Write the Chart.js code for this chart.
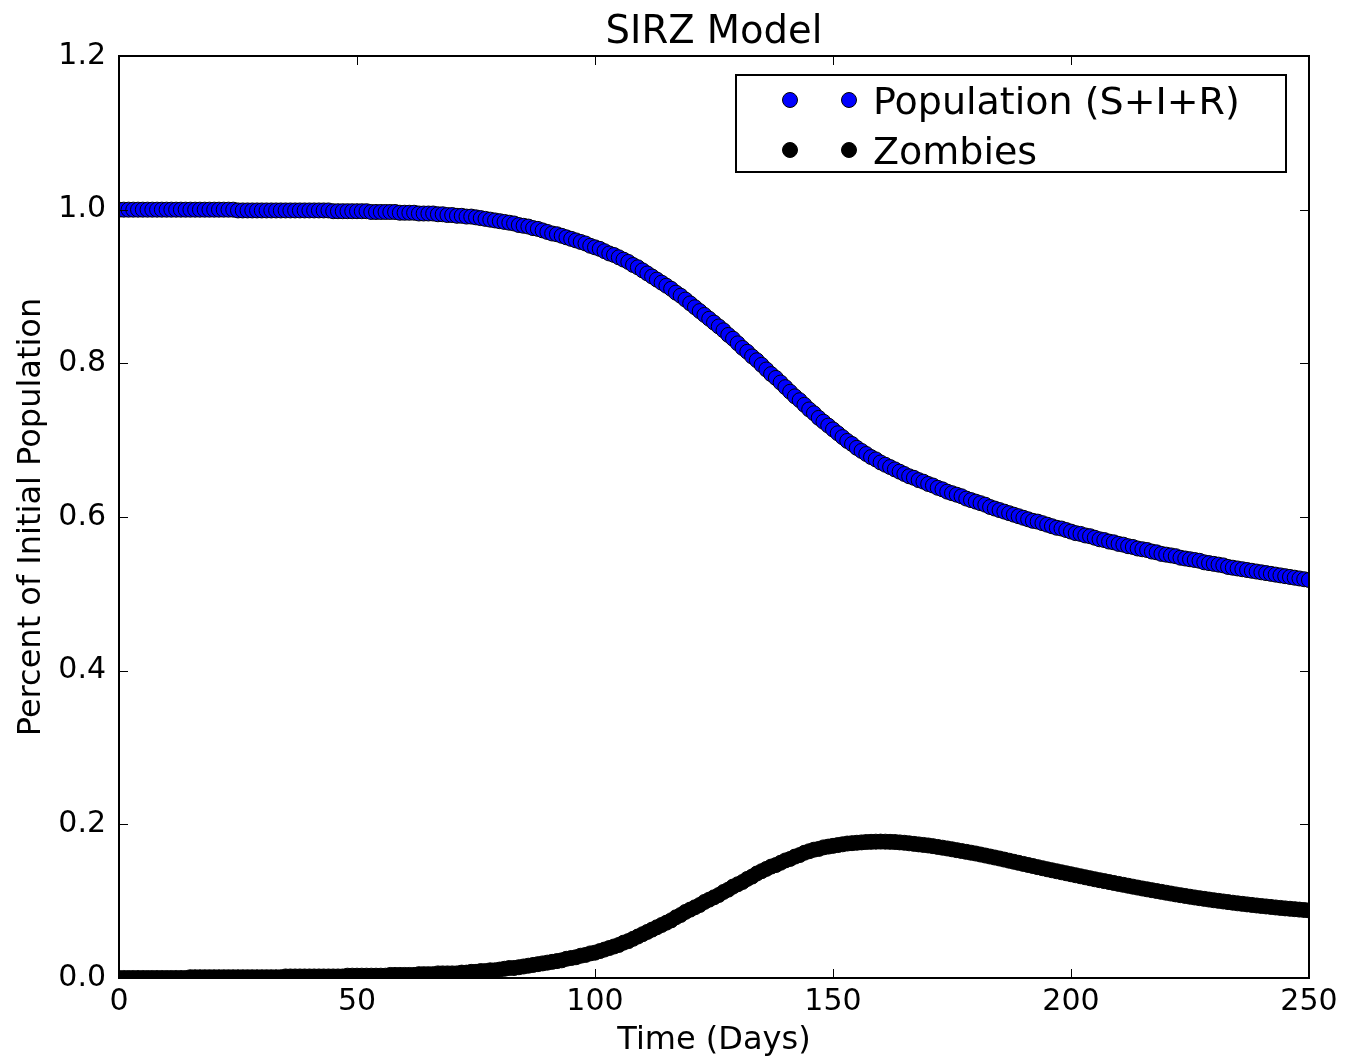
<!DOCTYPE html>
<html>
<head>
<meta charset="utf-8">
<title>SIRZ Model</title>
<script src="https://cdn.jsdelivr.net/npm/chart.js@4.4.1/dist/chart.umd.min.js"></script>
<style>
  html, body { margin: 0; padding: 0; background: #ffffff; }
  #wrap { width: 1346px; height: 1060px; }
</style>
</head>
<body>
<div id="wrap"><canvas id="chart" width="1346" height="1060"></canvas></div>
<script>
// Share of the initial population still human (S+I+R), one sample per day, days 0..250
const population = [
  // days 0-24
  1.000, 1.000, 1.000, 1.000, 1.000, 1.000, 1.000, 1.000, 1.000, 1.000,
  1.000, 1.000, 1.000, 1.000, 1.000, 1.000, 1.000, 1.000, 1.000, 1.000,
  1.000, 1.000, 1.000, 1.000, 1.000,
  // days 25-44
  0.999, 0.999, 0.999, 0.999, 0.999, 0.999, 0.999, 0.999, 0.999, 0.999,
  0.999, 0.999, 0.999, 0.999, 0.999, 0.999, 0.999, 0.999, 0.999, 0.999,
  // days 45-59
  0.998, 0.998, 0.998, 0.998, 0.998, 0.998, 0.998, 0.998,
  0.997, 0.997, 0.997, 0.997, 0.997, 0.997, 0.996,
  // days 60-99
  0.996, 0.996, 0.996, 0.995, 0.995, 0.995, 0.995, 0.994, 0.994, 0.993,
  0.993, 0.992, 0.992, 0.991, 0.991, 0.990, 0.989, 0.988, 0.987, 0.986,
  0.985, 0.984, 0.983, 0.982, 0.980, 0.979, 0.978, 0.976, 0.975, 0.973,
  0.971, 0.969, 0.968, 0.966, 0.964, 0.962, 0.960, 0.958, 0.956, 0.953,
  // days 100-139
  0.951, 0.949, 0.946, 0.943, 0.941, 0.938, 0.935, 0.932, 0.928, 0.925,
  0.921, 0.917, 0.913, 0.909, 0.905, 0.901, 0.897, 0.892, 0.888, 0.883,
  0.878, 0.873, 0.868, 0.863, 0.858, 0.853, 0.848, 0.843, 0.837, 0.832,
  0.826, 0.820, 0.815, 0.809, 0.804, 0.798, 0.792, 0.786, 0.781, 0.775,
  // days 140-179
  0.769, 0.763, 0.757, 0.752, 0.746, 0.740, 0.735, 0.729, 0.724, 0.719,
  0.714, 0.709, 0.704, 0.699, 0.695, 0.690, 0.686, 0.682, 0.678, 0.675,
  0.671, 0.668, 0.665, 0.662, 0.659, 0.656, 0.653, 0.651, 0.648, 0.646,
  0.643, 0.641, 0.638, 0.636, 0.633, 0.631, 0.629, 0.627, 0.624, 0.622,
  // days 180-219
  0.620, 0.618, 0.616, 0.613, 0.611, 0.609, 0.607, 0.605, 0.603, 0.601,
  0.599, 0.597, 0.595, 0.594, 0.592, 0.590, 0.588, 0.586, 0.585, 0.583,
  0.581, 0.579, 0.578, 0.576, 0.575, 0.573, 0.571, 0.570, 0.568, 0.567,
  0.565, 0.564, 0.562, 0.561, 0.559, 0.558, 0.557, 0.555, 0.554, 0.552,
  // days 220-250
  0.551, 0.550, 0.549, 0.547, 0.546, 0.545, 0.544, 0.543, 0.541, 0.540,
  0.539, 0.538, 0.537, 0.535, 0.534, 0.533, 0.532, 0.531, 0.530, 0.529,
  0.528, 0.527, 0.526, 0.525, 0.524, 0.523, 0.522, 0.521, 0.520, 0.519,
  0.518
];

// Zombies as a share of the initial population, days 0..250
const zombies = [
  // days 0-69
  0.000, 0.000, 0.000, 0.000, 0.000, 0.000, 0.000, 0.000, 0.000, 0.000,
  0.000, 0.000, 0.000, 0.000, 0.000, 0.001, 0.001, 0.001, 0.001, 0.001,
  0.001, 0.001, 0.001, 0.001, 0.001, 0.001, 0.001, 0.001, 0.001, 0.001,
  0.001, 0.001, 0.001, 0.001, 0.001, 0.002, 0.002, 0.002, 0.002, 0.002,
  0.002, 0.002, 0.002, 0.002, 0.002, 0.002, 0.002, 0.002, 0.003, 0.003,
  0.003, 0.003, 0.003, 0.003, 0.003, 0.003, 0.003, 0.004, 0.004, 0.004,
  0.004, 0.004, 0.004, 0.005, 0.005, 0.005, 0.005, 0.006, 0.006, 0.006,
  // days 70-109
  0.006, 0.006, 0.007, 0.007, 0.008, 0.008, 0.009, 0.009, 0.010, 0.010,
  0.011, 0.012, 0.013, 0.013, 0.014, 0.015, 0.016, 0.017, 0.018, 0.019,
  0.020, 0.021, 0.022, 0.023, 0.025, 0.026, 0.027, 0.029, 0.030, 0.032,
  0.033, 0.035, 0.037, 0.039, 0.041, 0.043, 0.046, 0.048, 0.051, 0.054,
  // days 110-149
  0.057, 0.060, 0.063, 0.066, 0.069, 0.072, 0.075, 0.079, 0.082, 0.086,
  0.089, 0.092, 0.095, 0.099, 0.102, 0.105, 0.108, 0.112, 0.115, 0.119,
  0.122, 0.125, 0.129, 0.132, 0.136, 0.139, 0.142, 0.145, 0.147, 0.150,
  0.153, 0.155, 0.158, 0.160, 0.163, 0.165, 0.167, 0.168, 0.170, 0.171,
  // days 150-189
  0.1720, 0.1730, 0.1740, 0.1750, 0.1755, 0.1760, 0.1765, 0.1770, 0.1772, 0.1774,
  0.1775, 0.1774, 0.1772, 0.1770, 0.1765, 0.1760, 0.1753, 0.1746, 0.1739, 0.1732,
  0.1725, 0.1716, 0.1706, 0.1696, 0.1686, 0.1675, 0.1664, 0.1653, 0.1642, 0.1631,
  0.1620, 0.1607, 0.1594, 0.1581, 0.1568, 0.1555, 0.1541, 0.1527, 0.1513, 0.1499,
  // days 190-219
  0.1485, 0.1471, 0.1457, 0.1443, 0.1429, 0.1415, 0.1402, 0.1389, 0.1376, 0.1363,
  0.1350, 0.1337, 0.1324, 0.1311, 0.1298, 0.1285, 0.1273, 0.1261, 0.1249, 0.1237,
  0.1225, 0.1213, 0.1201, 0.1189, 0.1177, 0.1165, 0.1154, 0.1143, 0.1132, 0.1121,
  // days 220-250
  0.1110, 0.1099, 0.1088, 0.1078, 0.1068, 0.1058, 0.1048, 0.1039, 0.1030, 0.1021,
  0.1012, 0.1004, 0.0996, 0.0988, 0.0980, 0.0972, 0.0965, 0.0958, 0.0951, 0.0944,
  0.0937, 0.0931, 0.0925, 0.0918, 0.0912, 0.0906, 0.0901, 0.0896, 0.0890, 0.0885,
  0.0880
];

// Time axis: one sample per day
const days = population.map((_, d) => d);

const xTicks = [0, 50, 100, 150, 200, 250];
const yTicks = [0.0, 0.2, 0.4, 0.6, 0.8, 1.0, 1.2];

const seriesNames = ['Population (S+I+R)', 'Zombies'];
const seriesColors = ['#0000ff', '#000000'];

const FONT = '"DejaVu Sans", "Bitstream Vera Sans", sans-serif';
const MARKER_R = 7.5;
const TICK_LEN = 9;

function toPoints(values) {
  return values.map((v, i) => ({ x: days[i], y: v }));
}

// Figure title, centred over the plotting area
const titlePlugin = {
  id: 'figTitle',
  afterDraw(chart) {
    const { ctx, chartArea: a } = chart;
    ctx.save();
    ctx.fillStyle = '#000';
    ctx.font = '38.5px ' + FONT;
    ctx.textAlign = 'center';
    ctx.textBaseline = 'alphabetic';
    ctx.fillText('SIRZ Model', (a.left + a.right) / 2, 43);
    ctx.restore();
  }
};

// Axes frame with inward tick marks on all four sides
const framePlugin = {
  id: 'frameTicks',
  afterDatasetsDraw(chart) {
    const { ctx, chartArea: a, scales } = chart;
    ctx.save();
    ctx.strokeStyle = '#000';
    ctx.lineWidth = 1;
    ctx.beginPath();
    scales.x.ticks.forEach(t => {
      const px = Math.round(scales.x.getPixelForValue(t.value)) + 0.5;
      ctx.moveTo(px, a.bottom); ctx.lineTo(px, a.bottom - TICK_LEN);
      ctx.moveTo(px, a.top); ctx.lineTo(px, a.top + TICK_LEN);
    });
    scales.y.ticks.forEach(t => {
      const py = Math.round(scales.y.getPixelForValue(t.value)) + 0.5;
      ctx.moveTo(a.left, py); ctx.lineTo(a.left + TICK_LEN, py);
      ctx.moveTo(a.right, py); ctx.lineTo(a.right - TICK_LEN, py);
    });
    ctx.stroke();
    ctx.lineWidth = 2;
    ctx.strokeRect(a.left, a.top, a.right - a.left, a.bottom - a.top);
    ctx.restore();
  }
};

// Framed legend in the upper right, two sample markers per entry
const legendPlugin = {
  id: 'boxLegend',
  afterDraw(chart) {
    const { ctx, chartArea: a } = chart;
    const boxW = 550, boxH = 97;
    const bx = a.right - 23 - boxW;
    const by = a.top + 19;
    ctx.save();
    ctx.fillStyle = '#fff';
    ctx.fillRect(bx, by, boxW, boxH);
    ctx.strokeStyle = '#000';
    ctx.lineWidth = 2;
    ctx.strokeRect(bx, by, boxW, boxH);
    ctx.font = '38px ' + FONT;
    ctx.textAlign = 'left';
    ctx.textBaseline = 'alphabetic';
    chart.data.datasets.forEach((ds, i) => {
      const cy = by + 25 + i * 50;
      [bx + 54, bx + 113].forEach(mx => {
        ctx.beginPath();
        ctx.arc(mx, cy, MARKER_R, 0, Math.PI * 2);
        ctx.fillStyle = ds.backgroundColor;
        ctx.fill();
        ctx.lineWidth = 1;
        ctx.strokeStyle = '#000';
        ctx.stroke();
      });
      ctx.fillStyle = '#000';
      ctx.fillText(ds.label, bx + 137, cy + 13.5);
    });
    ctx.restore();
  }
};

new Chart(document.getElementById('chart'), {
  type: 'scatter',
  data: {
    datasets: seriesNames.map((name, i) => ({
      label: name,
      data: toPoints(i === 0 ? population : zombies),
      backgroundColor: seriesColors[i],
      borderColor: '#000000',
      borderWidth: 1,
      pointRadius: MARKER_R,
      pointHoverRadius: MARKER_R,
      showLine: false,
      clip: 0
    }))
  },
  options: {
    responsive: false,
    animation: false,
    events: [],
    layout: { padding: { left: 0, right: 37, top: 56, bottom: 0 } },
    plugins: {
      legend: { display: false },
      title: { display: false },
      tooltip: { enabled: false }
    },
    scales: {
      x: {
        type: 'linear',
        min: 0,
        max: 250,
        afterBuildTicks(scale) { scale.ticks = xTicks.map(v => ({ value: v })); },
        afterFit(scale) { scale.height = 82; },
        grid: { display: false, drawTicks: false },
        border: { display: false },
        ticks: {
          color: '#000',
          padding: 6,
          maxRotation: 0,
          font: { family: FONT, size: 30 },
          callback: v => String(v)
        },
        title: {
          display: true,
          text: 'Time (Days)',
          color: '#000',
          font: { family: FONT, size: 32 },
          padding: { top: 0, bottom: 0 }
        }
      },
      y: {
        type: 'linear',
        min: 0,
        max: 1.2,
        afterBuildTicks(scale) { scale.ticks = yTicks.map(v => ({ value: v })); },
        afterFit(scale) { scale.width = 119; },
        grid: { display: false, drawTicks: false },
        border: { display: false },
        ticks: {
          color: '#000',
          padding: 13,
          font: { family: FONT, size: 30 },
          callback: v => Number(v).toFixed(1)
        },
        title: {
          display: true,
          text: 'Percent of Initial Population',
          color: '#000',
          font: { family: FONT, size: 32 },
          padding: { top: 12, bottom: 0 }
        }
      }
    }
  },
  plugins: [framePlugin, legendPlugin, titlePlugin]
});
</script>
</body>
</html>
